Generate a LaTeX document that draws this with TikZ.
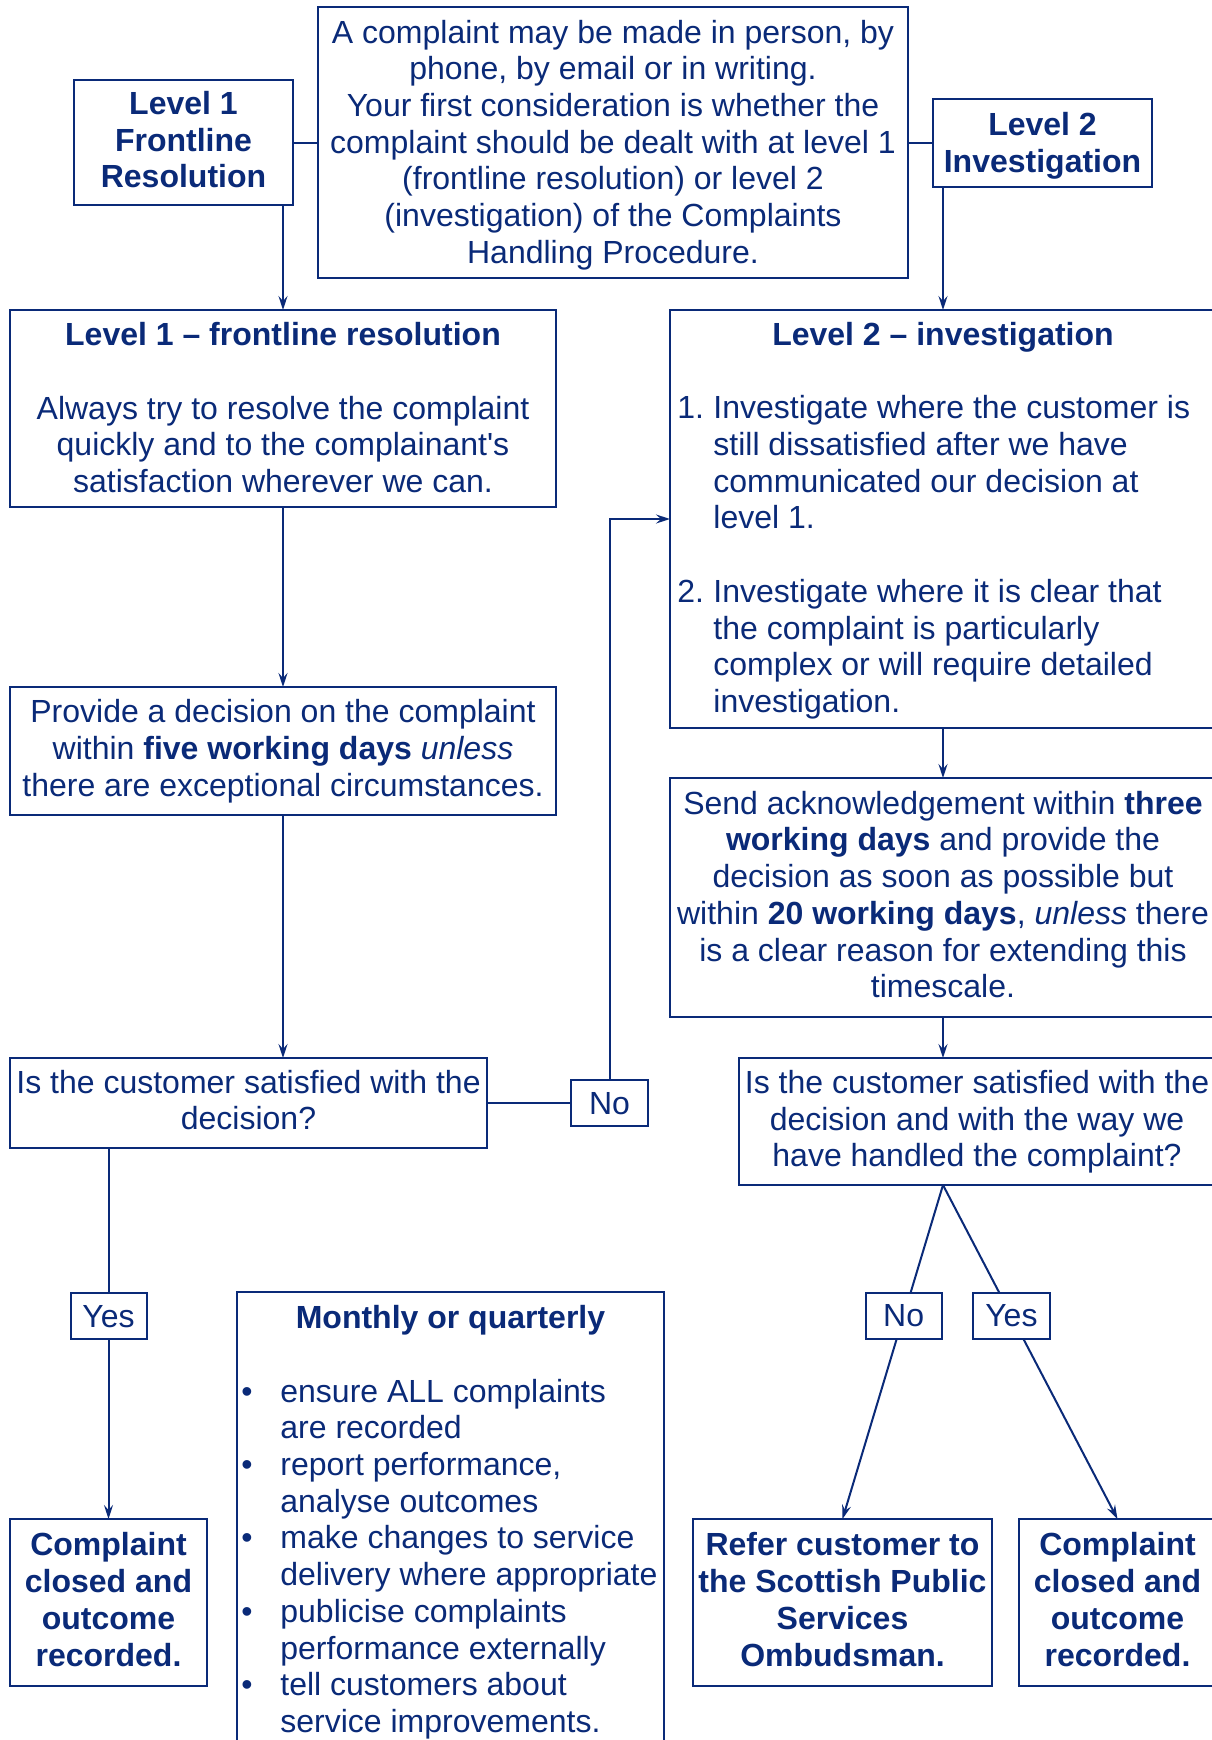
\documentclass[tikz,border=0pt]{standalone}
\usepackage{fontspec}
\setmainfont{Liberation Sans}[Ligatures=TeXOff]
\usetikzlibrary{arrows.meta}
\definecolor{navy}{RGB}{10,42,120}
\newcommand\topstrut{\rule{0pt}{16.5pt}}
\newcommand\fs{\rule{0pt}{14pt}}
\newcommand\fsb{\rule{0pt}{16.2pt}}
\newcommand\ls{\rule[-5.5pt]{0pt}{5.5pt}}
\begin{document}
\begin{tikzpicture}[x=0.5pt,y=-0.5pt,
  every node/.style={text=navy, font=\fontsize{16}{18.35}\selectfont},
  bf/.style={font=\fontsize{16}{18.35}\selectfont\bfseries},
  box/.style={draw=navy, line width=1pt, inner sep=0pt, outer sep=0pt, align=center},
  lbl/.style={box, fill=white, minimum height=23pt,
    execute at begin node=\topstrut, execute at end node=\strut},
  conn/.style={draw=navy, line width=1pt},
  arr/.style={conn, -{Stealth[length=7pt,width=4.5pt,inset=2.5pt]}}]
\fill[white] (0,0) rectangle (1211,1740);
\useasboundingbox (0,0) rectangle (1211,1740);

% top row
\node[box, minimum width=295pt, minimum height=135.5pt] (top) at (613,142.5)
  {\fsb A complaint may be made in person, by\\phone, by email or in writing.\\Your first consideration is whether the\\complaint should be dealt with at level 1\\(frontline resolution) or level 2\\(investigation) of the Complaints\\Handling Procedure.\ls};
\node[box, bf, minimum width=109.5pt, minimum height=62.5pt] (l1) at (183.5,142.5) {\fs Level 1\\Frontline\\Resolution\ls};
\node[box, bf, minimum width=109.5pt, minimum height=44pt] (l2) at (1042.5,143) {\fsb Level 2\\Investigation\ls};

% level 1 column
\node[box, minimum width=273pt, minimum height=98.5pt] (lvl1) at (283,408.5)
  {\fsb\textbf{Level 1 – frontline resolution}\\[18.35pt]Always try to resolve the complaint\\quickly and to the complainant's\\satisfaction wherever we can.\ls};
\node[box, minimum width=273pt, minimum height=64pt] (provide) at (283,751)
  {\fs Provide a decision on the complaint\\within \textbf{five working days} \textit{unless}\\there are exceptional circumstances.\ls};
\node[box, minimum width=238.5pt, minimum height=45pt] (sat1) at (248.5,1103)
  {\fs Is the customer satisfied with the\\decision?\ls};
\node[lbl, minimum width=38.5pt] (no1) at (609.5,1103) {No};
\node[box, bf, minimum width=98.5pt, minimum height=83.5pt] (closed1) at (108.5,1602.5)
  {\fs Complaint\\closed and\\outcome\\recorded.\ls};

% monthly box
\node[box, minimum width=213.5pt, minimum height=239pt] (monthly) at (450.5,1531) {};
\node[bf, anchor=base] (monthlyt) at (450.5,1328.6) {Monthly or quarterly};
\node[anchor=north west, inner sep=0pt] (monthlyl) at (241,1376) {\begin{tabular}{@{}p{19.5pt}@{}l@{}}
•& ensure ALL complaints\\
 & are recorded\\
•& report performance,\\
 & analyse outcomes\\
•& make changes to service\\
 & delivery where appropriate\\
•& publicise complaints\\
 & performance externally\\
•& tell customers about\\
 & service improvements.
\end{tabular}};

% level 2 column
\node[box, minimum width=273pt, minimum height=209pt] (lvl2) at (943,519) {};
\node[bf, anchor=base] (lvl2t) at (943,345) {Level 2 – investigation};
\node[anchor=north west, inner sep=0pt] (lvl2l) at (677,392.8) {\begin{tabular}{@{}p{18pt}@{}l@{}}
1.& Investigate where the customer is\\
  & still dissatisfied after we have\\
  & communicated our decision at\\
  & level 1.\\
  & \\
2.& Investigate where it is clear that\\
  & the complaint is particularly\\
  & complex or will require detailed\\
  & investigation.
\end{tabular}};
\node[box, minimum width=273pt, minimum height=119.5pt] (send) at (943,897.5)
  {\fs Send acknowledgement within \textbf{three}\\\textbf{working days} and provide the\\decision as soon as possible but\\within \textbf{20 working days}, \textit{unless} there\\is a clear reason for extending this\\timescale.\ls};
\node[box, minimum width=238pt, minimum height=63.5pt] (sat2) at (977,1121.5)
  {\fs Is the customer satisfied with the\\decision and with the way we\\have handled the complaint?\ls};
\node[box, bf, minimum width=149.5pt, minimum height=83.5pt] (refer) at (842.5,1602.5)
  {\fs Refer customer to\\the Scottish Public\\Services\\Ombudsman.\ls};
\node[box, bf, minimum width=98.5pt, minimum height=83.5pt] (closed2) at (1117.5,1602.5)
  {\fs Complaint\\closed and\\outcome\\recorded.\ls};

% connectors
\draw[conn] (l1.east) -- (l1.east -| top.west);
\draw[conn] (l2.west) -- (l2.west -| top.east);
\draw[arr] (l1.south -| lvl1.north) -- (lvl1.north);
\draw[arr] (l2.south -| lvl2.north) -- (lvl2.north);
\draw[arr] (lvl1.south) -- (provide.north);
\draw[arr] (provide.south) -- (provide.south |- sat1.north);
\draw[conn] (sat1.east) -- (no1.west);
\draw[arr] (no1.north) |- (lvl2.west);
\draw[arr] (closed1.north |- sat1.south) -- node[lbl, minimum width=38pt, pos=0.453] (yes1) {Yes} (closed1.north);
\draw[arr] (lvl2.south) -- (send.north);
\draw[arr] (send.south) -- (send.south |- sat2.north);
\coordinate (apex) at (send.south |- sat2.south);
\draw[arr] (apex) -- node[lbl, minimum width=38pt, pos=0.392] (no2) {No} (refer.north);
\draw[arr] (apex) -- node[lbl, minimum width=38.5pt, pos=0.392] (yes2) {Yes} (closed2.north);
\end{tikzpicture}
\end{document}
